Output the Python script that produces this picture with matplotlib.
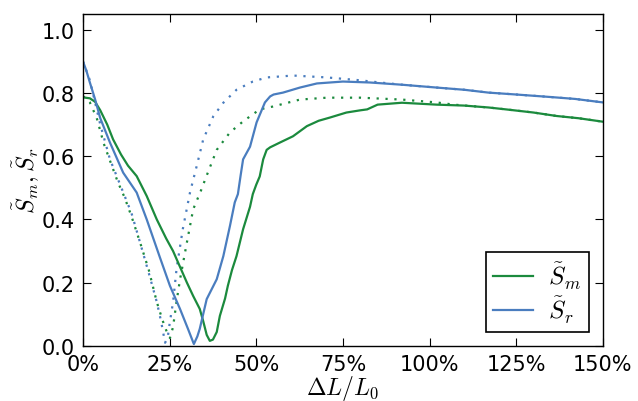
import matplotlib
matplotlib.use("Agg")
import matplotlib.pyplot as plt
from matplotlib.ticker import FuncFormatter

# strain (% of L0) and normalised slopes for the two measures
x_sm = [0, 2, 3.5, 5, 7, 8.7, 11, 13, 15.5, 18.4, 21.3, 24, 26, 28, 30, 31.8,
        33.7, 34.7, 35.7, 36.6, 37.5, 38.6, 39.5, 41, 41.8, 43, 44.3, 46.2,
        48.2, 49, 50, 51, 52, 53, 54, 56.8, 60.6, 64.6, 68, 71.2, 76, 80, 82,
        85, 92, 102, 110, 117, 122, 130, 136.7, 143, 150]
sm = [0.786, 0.783, 0.772, 0.745, 0.700, 0.653, 0.605, 0.570, 0.537, 0.474,
      0.400, 0.340, 0.300, 0.250, 0.200, 0.158, 0.117, 0.078, 0.035, 0.016,
      0.020, 0.044, 0.095, 0.150, 0.190, 0.240, 0.284, 0.369, 0.440, 0.480,
      0.510, 0.536, 0.590, 0.620, 0.628, 0.643, 0.663, 0.695, 0.712, 0.722,
      0.738, 0.745, 0.748, 0.763, 0.769, 0.763, 0.760, 0.754, 0.748, 0.738,
      0.727, 0.720, 0.709]

x_sm_pred = [0, 2, 4, 6, 8, 10, 12, 14, 16.4, 19, 21.3, 23, 24.2, 25.1, 26, 27,
             28, 30, 31.8, 34, 35.6, 38.6, 42.4, 46.2, 51, 54.8, 62.6, 70.4, 80,
             92, 102, 107, 117, 122, 130, 136.7, 143, 150]
sm_pred = [0.790, 0.770, 0.720, 0.640, 0.580, 0.520, 0.470, 0.410, 0.330,
           0.240, 0.139, 0.080, 0.044, 0.025, 0.060, 0.140, 0.210, 0.328,
           0.432, 0.490, 0.536, 0.620, 0.675, 0.710, 0.748, 0.757, 0.779,
           0.785, 0.785, 0.779, 0.770, 0.763, 0.754, 0.748, 0.738, 0.727,
           0.720, 0.709]

x_sr = [0, 1, 2, 3.5, 5, 7.8, 11.6, 15.5, 18.4, 22.2, 25.1, 28, 30.3, 32, 33,
        33.7, 35.7, 38.6, 40.5, 42.4, 43.8, 44.7, 45.5, 46.2, 48.2, 50.1, 52.5,
        54, 55, 57.7, 62.6, 67.5, 75, 82.8, 92, 102, 110, 117, 125, 135, 142,
        150]
sr = [0.900, 0.870, 0.833, 0.780, 0.720, 0.643, 0.548, 0.485, 0.400, 0.280,
      0.190, 0.117, 0.054, 0.006, 0.030, 0.054, 0.148, 0.211, 0.284, 0.379,
      0.454, 0.480, 0.540, 0.590, 0.630, 0.707, 0.770, 0.789, 0.795, 0.801,
      0.817, 0.830, 0.836, 0.833, 0.826, 0.817, 0.810, 0.801, 0.795, 0.787,
      0.781, 0.770]

x_sr_pred = [0, 2, 3.5, 5, 7.8, 11.6, 14, 16.4, 19, 21.3, 22.5, 23.7, 24.5, 25,
             26, 27, 28.8, 30.9, 32.8, 34.7, 37.6, 40.5, 44.3, 49, 53, 60.6,
             70.4, 79.9, 85.7, 92, 102, 110, 117, 125, 135, 142, 150]
sr_pred = [0.900, 0.840, 0.770, 0.700, 0.590, 0.486, 0.420, 0.330, 0.230,
           0.139, 0.080, 0.010, 0.030, 0.070, 0.139, 0.243, 0.369, 0.486,
           0.568, 0.653, 0.726, 0.769, 0.810, 0.836, 0.849, 0.855, 0.849,
           0.840, 0.833, 0.826, 0.817, 0.810, 0.801, 0.795, 0.787, 0.781,
           0.770]

C_M, C_R = "#1b8a3d", "#4a7dbf"

plt.rcParams.update({
    "font.family": "DejaVu Sans", "font.size": 15, "mathtext.fontset": "cm",
    "xtick.direction": "in", "ytick.direction": "in",
    "xtick.top": True, "ytick.right": True,
    "xtick.major.size": 6, "ytick.major.size": 6,
    "xtick.major.pad": 6, "ytick.major.pad": 6,
    "axes.linewidth": 1.0,
})

fig = plt.figure(figsize=(6.38, 4.02), dpi=100)
ax = fig.add_axes([0.130, 0.137, 0.815, 0.826])

dots = (0, (1, 3))
ax.plot(x_sm_pred, sm_pred, color=C_M, lw=1.6, linestyle=dots)
ax.plot(x_sr_pred, sr_pred, color=C_R, lw=1.6, linestyle=dots)
ax.plot(x_sm, sm, color=C_M, lw=1.6, label=r"$\tilde{S}_m$")
ax.plot(x_sr, sr, color=C_R, lw=1.6, label=r"$\tilde{S}_r$")

ax.set_xlim(0, 150)
ax.set_ylim(0, 1.05)
ax.set_xticks([0, 25, 50, 75, 100, 125, 150])
ax.set_yticks([0, 0.2, 0.4, 0.6, 0.8, 1.0])
ax.xaxis.set_major_formatter(FuncFormatter(lambda v, _: f"{v:.0f}%"))
ax.yaxis.set_major_formatter(FuncFormatter(lambda v, _: f"{v:.1f}"))
ax.set_xlabel(r"$\Delta L/L_0$", fontsize=17)
ax.set_ylabel(r"$\tilde{S}_m, \tilde{S}_r$", fontsize=17)
ax.xaxis.set_label_coords(0.5, -0.082)
ax.yaxis.set_label_coords(-0.078, 0.5)

leg = ax.legend(loc="lower right", fontsize=18, fancybox=False,
                edgecolor="black", framealpha=1, borderaxespad=0.55,
                handlelength=1.6, handletextpad=0.6, labelspacing=0.1,
                borderpad=0.3)
leg.get_frame().set_linewidth(1.2)

fig.savefig("out.png", dpi=100, facecolor="white")
